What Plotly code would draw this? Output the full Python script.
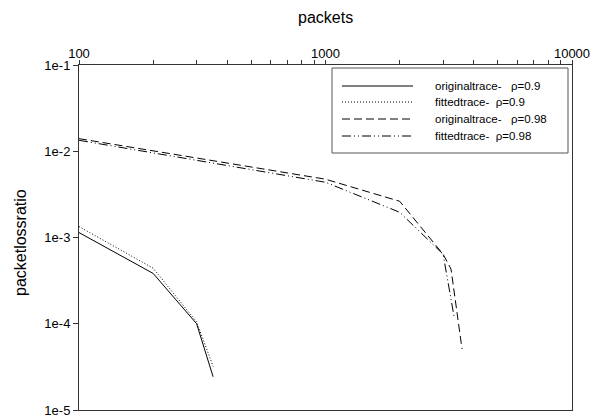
import plotly.graph_objects as go

# Packet loss ratio vs. buffer size (packets), original vs fitted traces
x_09 = [100, 200, 300, 350]
orig_09 = [1.14e-3, 3.83e-4, 1.0e-4, 2.43e-5]
fit_09 = [1.34e-3, 4.4e-4, 1.05e-4, 3.2e-5]

x_orig_098 = [100, 1000, 2000, 3000, 3230, 3580]
orig_098 = [1.40e-2, 4.74e-3, 2.63e-3, 6.4e-4, 4.3e-4, 5.1e-5]
x_fit_098 = [100, 1000, 2000, 3000, 3320]
fit_098 = [1.34e-2, 4.37e-3, 1.96e-3, 6.4e-4, 1.23e-4]

names = ["originaltrace-\u00a0\u00a0\u00a0\u03c1=0.9",
         "fittedtrace-\u00a0\u00a0\u03c1=0.9",
         "originaltrace-\u00a0\u00a0\u00a0\u03c1=0.98",
         "fittedtrace-\u00a0\u00a0\u03c1=0.98"]
dashes = ["solid", "1px,2px", "8px,4px", "9px,3px,1px,3px,1px,3px"]

x_major = [100, 1000, 10000]
x_ticks = [100 * m for m in range(1, 10)] + [1000 * m for m in range(1, 10)] + [10000]
x_text = [str(v) if v in x_major else "" for v in x_ticks]
y_ticks = [1e-5, 1e-4, 1e-3, 1e-2, 1e-1]
y_text = ["1e-5", "1e-4", "1e-3", "1e-2", "1e-1"]

W, H = 591, 418
L, R, T, B = 79, 19, 65, 8
pw, ph = W - L - R, H - T - B

def px(xp):
    return (xp - L) / pw

def py(yp):
    return 1 - (yp - T) / ph

fig = go.Figure()
series = [(x_09, orig_09), (x_09, fit_09), (x_orig_098, orig_098), (x_fit_098, fit_098)]
for (xs, ys), nm, d in zip(series, names, dashes):
    fig.add_trace(go.Scatter(x=xs, y=ys, mode="lines", name=nm,
                             line=dict(color="black", width=1, dash=d),
                             showlegend=False))

font = "Liberation Sans, Arial, sans-serif"

# Legend box drawn in paper coordinates
shapes = [dict(type="rect", xref="paper", yref="paper",
               x0=px(332), x1=px(568), y0=py(68), y1=py(153),
               line=dict(color="#555555", width=1), fillcolor="white", layer="above")]
annotations = []
rows = [86, 102, 119, 136]
for r, nm, d in zip(rows, names, dashes):
    shapes.append(dict(type="line", xref="paper", yref="paper",
                       x0=px(342), x1=px(413), y0=py(r), y1=py(r),
                       line=dict(color="black", width=1, dash=d), layer="above"))
    annotations.append(dict(xref="paper", yref="paper", x=px(433), y=py(r),
                            text=nm, showarrow=False, xanchor="left", yanchor="middle",
                            font=dict(family=font, size=11.5, color="black")))

annotations.append(dict(xref="paper", yref="paper", x=0.5, y=py(18), text="packets",
                        showarrow=False, xanchor="center", yanchor="middle",
                        font=dict(family=font, size=16, color="black")))
annotations.append(dict(xref="paper", yref="paper", x=px(20), y=py(243),
                        text="packetlossratio", textangle=-90, showarrow=False,
                        xanchor="center", yanchor="middle",
                        font=dict(family=font, size=16, color="black")))

fig.update_layout(
    template="none",
    width=W, height=H,
    margin=dict(l=L, r=R, t=T, b=B, pad=0),
    paper_bgcolor="white", plot_bgcolor="white",
    font=dict(family=font, size=13, color="black"),
    shapes=shapes, annotations=annotations,
    xaxis=dict(type="log", side="top", range=[2, 4], tickvals=x_ticks, ticktext=x_text,
               automargin=False, ticklabelstandoff=-3,
               ticks="outside", ticklen=4, tickcolor="#333", showgrid=False, zeroline=False,
               showline=True, linecolor="#333", linewidth=1, mirror=True),
    yaxis=dict(type="log", range=[-5, -1], tickvals=y_ticks, ticktext=y_text,
               automargin=False,
               ticks="outside", ticklen=5, tickcolor="#333", showgrid=False, zeroline=False,
               showline=True, linecolor="#333", linewidth=1, mirror=True),
)

fig.write_html("out.html")
